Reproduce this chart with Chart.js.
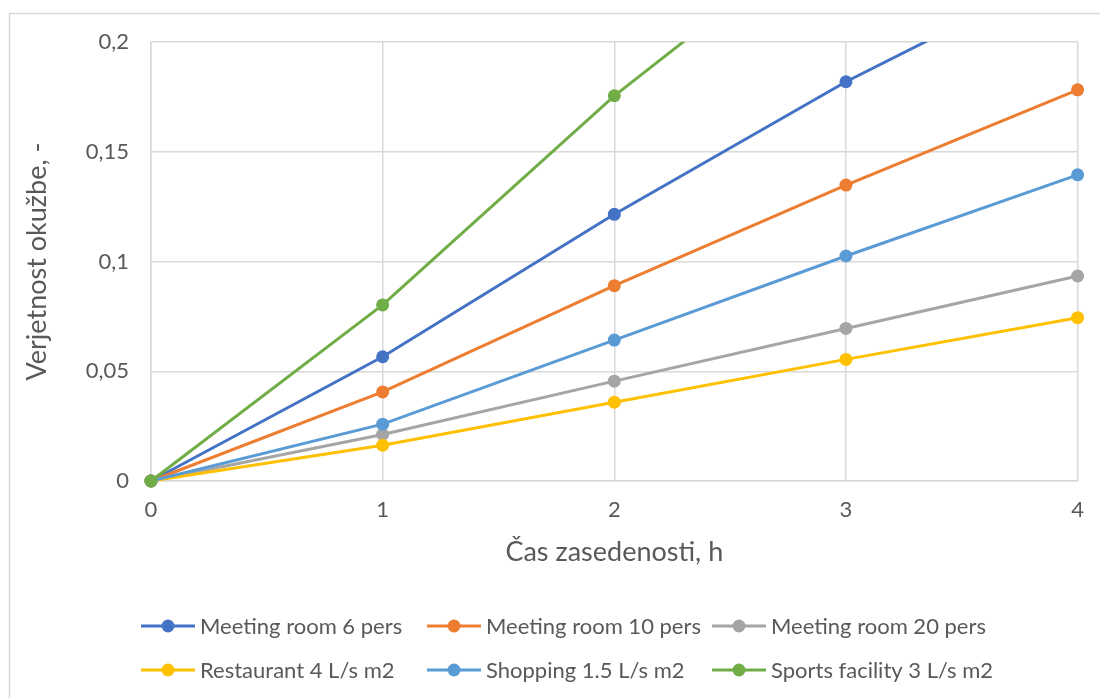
<!DOCTYPE html>
<html>
<head>
<meta charset="utf-8">
<script src="https://cdn.jsdelivr.net/npm/chart.js@4/dist/chart.umd.min.js"></script>
<style>
  html, body { margin: 0; padding: 0; background: #ffffff; }
  #wrap { position: relative; width: 1100px; height: 698px; overflow: hidden; }
  canvas { display: block; }
</style>
</head>
<body>
<div id="wrap"><canvas id="c" width="1100" height="698"></canvas></div>
<script>
// Occupancy time, hours
const hours = [0, 1, 2, 3, 4];

// Infection probability per scenario
const meetingRoom6 = [0, 0.0566, 0.1215, 0.1819, 0.235];
const meetingRoom10 = [0, 0.0406, 0.0890, 0.1348, 0.1782];
const meetingRoom20 = [0, 0.0212, 0.0455, 0.0695, 0.0934];
const restaurant = [0, 0.0163, 0.0359, 0.0554, 0.0744];
const shopping = [0, 0.0259, 0.0642, 0.1025, 0.1395];
const sportsFacility = [0, 0.0802, 0.1755, 0.258, 0.335];

const seriesNames = [
  'Meeting room 6 pers', 'Meeting room 10 pers', 'Meeting room 20 pers',
  'Restaurant 4 L/s m2', 'Shopping 1.5 L/s m2', 'Sports facility 3 L/s m2'
];
const seriesValues = [meetingRoom6, meetingRoom10, meetingRoom20, restaurant, shopping, sportsFacility];
const seriesColors = ['#4472C4', '#ED7D31', '#A5A5A5', '#FFC000', '#5B9BD5', '#70AD47'];

const yTicks = [0, 0.05, 0.1, 0.15, 0.2];
const xTitle = 'Čas zasedenosti, h';
const yTitle = 'Verjetnost okužbe, -';

const FONT = 'Lato, "Open Sans", sans-serif';
const TEXT = '#595959';
const GRID = '#d9d9d9';

const datasets = seriesNames.map((name, i) => ({
  label: name,
  data: hours.map((h, k) => ({ x: h, y: seriesValues[i][k] })),
  borderColor: seriesColors[i],
  backgroundColor: seriesColors[i],
  pointBackgroundColor: seriesColors[i],
  pointBorderColor: seriesColors[i],
  borderWidth: 3,
  pointRadius: 6.5,
  pointBorderWidth: 0,
  pointHoverRadius: 6.5,
  tension: 0,
  // later series are painted over earlier ones
  order: seriesNames.length - 1 - i,
  clip: { left: 12, right: 12, bottom: 12, top: 0 }
}));

// Outer frame of the chart
const framePlugin = {
  id: 'frame',
  beforeDraw(chart) {
    const ctx = chart.ctx;
    ctx.save();
    ctx.fillStyle = '#ffffff';
    ctx.fillRect(0, 0, chart.width, chart.height);
    ctx.strokeStyle = GRID;
    ctx.lineWidth = 1.5;
    ctx.strokeRect(9.5, 13.5, 1200, 800);
    ctx.restore();
  }
};

// Legend laid out in a 3-column grid under the axis title
const gridLegend = {
  id: 'gridLegend',
  afterDraw(chart) {
    const ctx = chart.ctx;
    const colX = [141, 427, 712];
    const rowY = [626, 670];
    ctx.save();
    ctx.font = '22px ' + FONT;
    ctx.textBaseline = 'middle';
    ctx.textAlign = 'left';
    seriesNames.forEach((name, i) => {
      const x = colX[i % 3];
      const y = rowY[Math.floor(i / 3)];
      ctx.strokeStyle = seriesColors[i];
      ctx.lineWidth = 3;
      ctx.beginPath();
      ctx.moveTo(x, y);
      ctx.lineTo(x + 54, y);
      ctx.stroke();
      ctx.fillStyle = seriesColors[i];
      ctx.beginPath();
      ctx.arc(x + 27, y, 6.5, 0, Math.PI * 2);
      ctx.fill();
      ctx.fillStyle = TEXT;
      ctx.fillText(name, x + 59, y + 1);
    });
    ctx.restore();
  }
};

new Chart(document.getElementById('c'), {
  type: 'line',
  data: { datasets },
  plugins: [framePlugin, gridLegend],
  options: {
    responsive: false,
    animation: false,
    devicePixelRatio: 1,
    layout: { padding: { left: 0, top: 42, right: 22, bottom: 127 } },
    plugins: {
      legend: { display: false },
      tooltip: { enabled: false }
    },
    scales: {
      x: {
        type: 'linear',
        min: 0,
        max: 4,
        afterFit(scale) { scale.height = 90; },
        ticks: {
          stepSize: 1,
          color: TEXT,
          font: { family: FONT, size: 22 },
          padding: 16,
          maxRotation: 0
        },
        grid: { color: GRID, lineWidth: 1.5, drawTicks: false },
        border: { color: GRID, width: 1.5 },
        title: {
          display: true,
          text: xTitle,
          color: TEXT,
          font: { family: FONT, size: 27 },
          padding: { top: 0, bottom: 3 }
        }
      },
      y: {
        type: 'linear',
        min: 0,
        max: 0.2,
        afterFit(scale) { scale.width = 151; },
        afterBuildTicks(scale) { scale.ticks = yTicks.map(v => ({ value: v })); },
        ticks: {
          color: TEXT,
          font: { family: FONT, size: 22 },
          padding: 22,
          callback: v => String(Math.round(v * 100) / 100).replace('.', ',')
        },
        grid: { color: GRID, lineWidth: 1.5, drawTicks: false },
        border: { color: GRID, width: 1.5 },
        title: {
          display: true,
          text: yTitle,
          color: TEXT,
          font: { family: FONT, size: 27 },
          padding: { top: 21, bottom: 0 }
        }
      }
    }
  }
});
</script>
</body>
</html>
